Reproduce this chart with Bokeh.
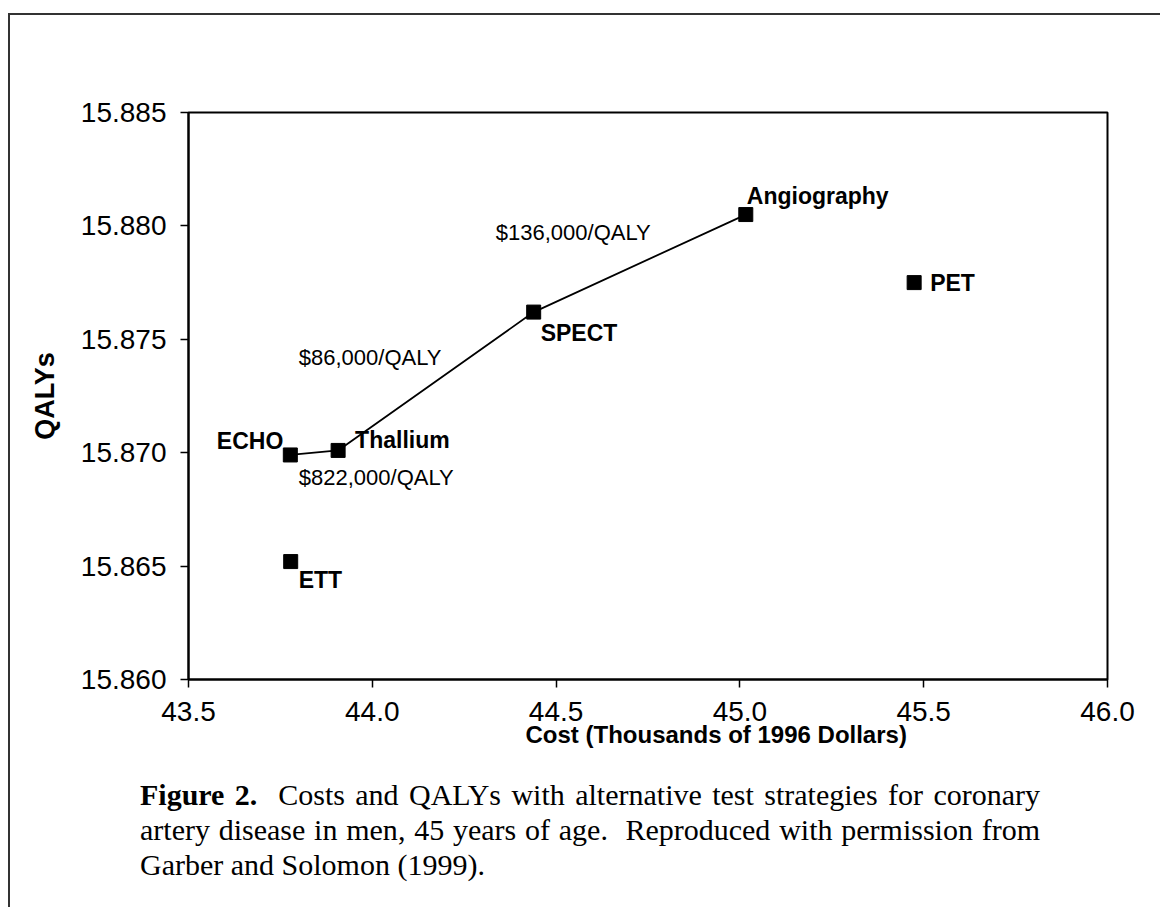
from bokeh.plotting import figure
from bokeh.models import Range1d, FixedTicker, NumeralTickFormatter, Title, Div
from bokeh.layouts import column
from bokeh.core.properties import value
from bokeh.embed import file_html
from bokeh.resources import INLINE

# ---- data ----
strategies = ["ETT", "ECHO", "Thallium", "SPECT", "Angiography", "PET"]
cost = [43.778, 43.777, 43.907, 44.439, 45.016, 45.474]          # thousands of 1996 dollars
qaly = [15.8652, 15.8699, 15.8701, 15.8762, 15.8805, 15.8775]
frontier = ["ECHO", "Thallium", "SPECT", "Angiography"]
icer_text = ["$822,000/QALY", "$86,000/QALY", "$136,000/QALY"]
icer_x = [43.800, 43.800, 44.336]
icer_y = [15.8689, 15.8742, 15.8797]
x_ticks = [43.5, 44.0, 44.5, 45.0, 45.5, 46.0]
y_ticks = [15.860, 15.865, 15.870, 15.875, 15.880, 15.885]

SANS = "Liberation Sans"
SERIF = "Liberation Serif"

p = figure(width=1150, height=762, output_backend="svg", toolbar_location=None,
           x_range=Range1d(43.5, 46.0), y_range=Range1d(15.860, 15.885),
           min_border_left=178, min_border_right=53, min_border_top=97, min_border_bottom=98)
p.background_fill_color = "white"
p.border_fill_color = "white"
p.outline_line_color = "black"
p.outline_line_width = 2
p.xgrid.visible = False
p.ygrid.visible = False

for ax in (p.xaxis[0], p.yaxis[0]):
    ax.axis_line_color = "black"
    ax.axis_line_width = 2
    ax.major_tick_line_color = "black"
    ax.major_tick_line_width = 1.5
    ax.major_tick_in = 0
    ax.major_tick_out = 8
    ax.minor_tick_line_color = None
    ax.major_label_text_font = SANS
    ax.major_label_text_font_size = "28px"
    ax.major_label_text_color = "black"

p.xaxis.ticker = FixedTicker(ticks=x_ticks)
p.yaxis.ticker = FixedTicker(ticks=y_ticks)
p.xaxis.formatter = NumeralTickFormatter(format="0.0")
p.yaxis.formatter = NumeralTickFormatter(format="0.000")
p.xaxis.major_label_standoff = 14
p.yaxis.major_label_standoff = 14

p.yaxis.axis_label = "QALYs"
p.yaxis.axis_label_text_font = SANS
p.yaxis.axis_label_text_font_size = "27px"
p.yaxis.axis_label_text_font_style = "bold"
p.yaxis.axis_label_text_color = "black"
p.yaxis.axis_label_standoff = 18

# x axis title (in the original it sits right of the frame centre)
xtitle = Title(text="Cost (Thousands of 1996 Dollars)", align="left", offset=337,
               standoff=-10, text_font=SANS, text_font_size="24px",
               text_font_style="bold", text_color="black")
p.add_layout(xtitle, "below")

# efficient frontier line
fx = [cost[strategies.index(s)] for s in frontier]
fy = [qaly[strategies.index(s)] for s in frontier]
p.line(fx, fy, line_color="black", line_width=1.8)

# markers
p.scatter(cost, qaly, marker="square", size=14, fill_color="black", line_color="black")

# point labels
placement = {
    "ETT": (8, 18, "left", "middle"),
    "ECHO": (-7, -14, "right", "middle"),
    "Thallium": (17, -10, "left", "middle"),
    "SPECT": (7, 21, "left", "middle"),
    "Angiography": (1, -19, "left", "middle"),
    "PET": (16, 0, "left", "middle"),
}
for i, name in enumerate(strategies):
    dx, dy, al, bl = placement[name]
    p.text(x=[cost[i]], y=[qaly[i]], text=[name], x_offset=dx, y_offset=dy,
           text_align=al, text_baseline=bl, text_font=value(SANS),
           text_font_size="23px", text_font_style="bold", text_color="black")

# incremental cost-effectiveness labels
p.text(x=icer_x, y=icer_y, text=icer_text, text_align="left", text_baseline="middle",
       text_font=value(SANS), text_font_size="22px", text_color="black")

line_style = ("text-align: justify; text-align-last: justify; width: 900px; "
              "white-space: nowrap;")
caption = Div(
    text=(f'<div style="{line_style}"><b>Figure 2.</b>&nbsp; Costs and QALYs with alternative test strategies for coronary</div>'
          f'<div style="{line_style}">artery disease in men, 45 years of age.&nbsp; Reproduced with permission from</div>'
          '<div style="white-space: nowrap;">Garber and Solomon (1999).</div>'),
    width=1000, height=130, margin=(0, 0, 0, 130),
    styles={"font-family": f"'{SERIF}', 'Times New Roman', serif", "font-size": "30px",
            "line-height": "35px", "color": "black"})

layout = column(p, caption, spacing=0,
                styles={"border-left": "2px solid #333", "border-top": "2px solid #333",
                        "margin-top": "13px", "margin-left": "8px"})

open("out.html", "w").write(file_html(layout, INLINE))
